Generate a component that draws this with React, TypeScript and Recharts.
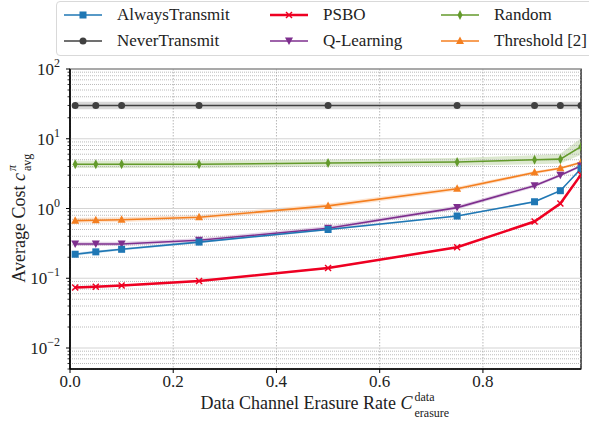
import {
  ComposedChart,
  Line,
  Area,
  XAxis,
  YAxis,
  CartesianGrid,
  ReferenceLine,
  ReferenceArea,
} from "recharts";

const FONT = "'Liberation Serif', 'DejaVu Serif', 'Times New Roman', Times, serif";

const erasureRates = [0.01, 0.05, 0.1, 0.25, 0.5, 0.75, 0.9, 0.95, 0.99];

const alwaysCost = [0.221, 0.239, 0.26, 0.33, 0.5, 0.78, 1.25, 1.8, 3.72];
const alwaysLo = [0.21, 0.228, 0.25, 0.318, 0.485, 0.76, 1.21, 1.74, 3.58];
const alwaysHi = [0.232, 0.25, 0.27, 0.342, 0.515, 0.8, 1.29, 1.86, 3.88];

const neverCost = [30, 30, 30, 30, 30, 30, 30, 30, 30];
const neverLo = [26.5, 26.5, 26.5, 26.5, 26.5, 26.5, 26.5, 26.5, 26.5];
const neverHi = [34, 34, 34, 34, 34, 34, 34, 34, 34];

const psboCost = [0.0735, 0.0758, 0.0785, 0.091, 0.14, 0.278, 0.65, 1.18, 3.05];
const psboLo = [0.071, 0.0735, 0.076, 0.088, 0.136, 0.27, 0.63, 1.14, 2.92];
const psboHi = [0.076, 0.078, 0.081, 0.094, 0.144, 0.286, 0.67, 1.22, 3.2];

const qCost = [0.31, 0.31, 0.31, 0.35, 0.52, 1.03, 2.12, 3.0, 4.07];
const qLo = [0.29, 0.29, 0.29, 0.33, 0.49, 0.97, 2.0, 2.85, 3.9];
const qHi = [0.335, 0.335, 0.335, 0.375, 0.56, 1.1, 2.25, 3.15, 4.25];

const randomCost = [4.3, 4.3, 4.3, 4.3, 4.5, 4.65, 5.0, 5.1, 7.7];
const randomLo = [3.8, 3.8, 3.8, 3.8, 4.0, 4.1, 4.3, 4.4, 5.9];
const randomHi = [4.85, 4.85, 4.85, 4.85, 5.05, 5.3, 5.8, 6.1, 10.2];

const thresholdCost = [0.67, 0.68, 0.69, 0.75, 1.09, 1.92, 3.28, 3.77, 4.56];
const thresholdLo = [0.62, 0.63, 0.64, 0.7, 1.01, 1.8, 3.1, 3.62, 4.35];
const thresholdHi = [0.73, 0.74, 0.75, 0.81, 1.18, 2.05, 3.45, 3.95, 4.8];

const xTicks = [0, 0.2, 0.4, 0.6, 0.8];
const yMajor = [0.01, 0.1, 1, 10, 100];
const yMajorExp = ["−2", "−1", "0", "1", "2"];
const yMinor: number[] = [];
for (const d of [0.001, 0.01, 0.1, 1, 10]) {
  for (let m = 2; m <= 9; m++) {
    const v = +(m * d).toPrecision(3);
    if (v >= 0.005 && v < 100) yMinor.push(v);
  }
}

const C = {
  always: "#1f77b4",
  never: "#404040",
  psbo: "#ee0022",
  q: "#7e2f8e",
  random: "#639a2b",
  threshold: "#f47f20",
};

const data = erasureRates.map((x, i) => ({
  x,
  always: alwaysCost[i],
  alwaysBand: [alwaysLo[i], alwaysHi[i]],
  never: neverCost[i],
  neverBand: [neverLo[i], neverHi[i]],
  psbo: psboCost[i],
  psboBand: [psboLo[i], psboHi[i]],
  q: qCost[i],
  qBand: [qLo[i], qHi[i]],
  random: randomCost[i],
  randomBand: [randomLo[i], randomHi[i]],
  threshold: thresholdCost[i],
  thresholdBand: [thresholdLo[i], thresholdHi[i]],
}));

type MarkerKind = "square" | "circle" | "x" | "down" | "diamond" | "up";

function Marker({ kind, cx, cy, color }: { kind: MarkerKind; cx: number; cy: number; color: string }) {
  if (cx == null || cy == null) return null;
  switch (kind) {
    case "square":
      return <rect x={cx - 3.5} y={cy - 3.5} width={7} height={7} fill={color} />;
    case "circle":
      return <circle cx={cx} cy={cy} r={3.5} fill={color} />;
    case "x":
      return (
        <g stroke={color} strokeWidth={1.4}>
          <line x1={cx - 3} y1={cy - 3} x2={cx + 3} y2={cy + 3} />
          <line x1={cx - 3} y1={cy + 3} x2={cx + 3} y2={cy - 3} />
        </g>
      );
    case "down":
      return <polygon points={`${cx - 4},${cy - 3.5} ${cx + 4},${cy - 3.5} ${cx},${cy + 4}`} fill={color} />;
    case "diamond":
      return <polygon points={`${cx},${cy - 5} ${cx + 2.5},${cy} ${cx},${cy + 5} ${cx - 2.5},${cy}`} fill={color} />;
    case "up":
      return <polygon points={`${cx},${cy - 4.5} ${cx + 4},${cy + 3} ${cx - 4},${cy + 3}`} fill={color} />;
  }
  return null;
}

const dotFor = (kind: MarkerKind, color: string) => (p: any) =>
  <Marker key={`${kind}-${p.index}`} kind={kind} cx={p.cx} cy={p.cy} color={color} />;

const YTick = ({ x, y, payload }: any) => {
  const v = payload.value;
  const idx = yMajor.findIndex((m) => Math.abs(m - v) / v < 1e-6);
  const major = idx >= 0;
  return (
    <g>
      <line x1={x - (major ? 4 : 2.5)} y1={y} x2={x} y2={y} stroke="#000" strokeWidth={major ? 1 : 0.8} />
      {major && (
        <text x={x - 10} y={y + 6} textAnchor="end" fontFamily={FONT} fontSize={17} fill="#222">
          10
          <tspan dy={-8} fontSize={12}>
            {yMajorExp[idx]}
          </tspan>
        </text>
      )}
    </g>
  );
};

const XLabel = ({ viewBox }: any) => {
  const cx = viewBox.x + viewBox.width / 2;
  const y = viewBox.y + 40;
  return (
    <g fontFamily={FONT} fill="#222">
      <text x={cx + 87} y={y} textAnchor="end" fontSize={18}>
        Data Channel Erasure Rate <tspan fontStyle="italic">C</tspan>
      </text>
      <text x={cx + 89} y={y - 8} fontSize={12}>data</text>
      <text x={cx + 89} y={y + 8} fontSize={12}>erasure</text>
    </g>
  );
};

const YLabel = ({ viewBox }: any) => {
  const cy = viewBox.y + viewBox.height / 2;
  const x = 25;
  return (
    <g transform={`rotate(-90 ${x} ${cy})`} fontFamily={FONT} fill="#222">
      <text x={x + 46} y={cy} textAnchor="end" fontSize={18}>
        Average Cost <tspan fontStyle="italic">c</tspan>
      </text>
      <text x={x + 48} y={cy - 9} fontSize={12} fontStyle="italic">π</text>
      <text x={x + 48} y={cy + 6} fontSize={12}>avg</text>
    </g>
  );
};

const legendItems: { name: string; kind: MarkerKind; color: string; width?: number }[] = [
  { name: "AlwaysTransmit", kind: "square", color: C.always },
  { name: "PSBO", kind: "x", color: C.psbo, width: 2.5 },
  { name: "Random", kind: "diamond", color: C.random },
  { name: "NeverTransmit", kind: "circle", color: C.never },
  { name: "Q-Learning", kind: "down", color: C.q },
  { name: "Threshold [2]", kind: "up", color: C.threshold },
];
const legendCols = [62, 268, 439];

const LegendBox = () => (
  <div
    style={{
      position: "absolute",
      left: 56,
      top: 1,
      width: 560,
      height: 55,
      border: "1px solid #d9d9d9",
      borderRadius: 4,
      background: "#fff",
      boxSizing: "border-box",
    }}
  >
    {legendItems.map((it, i) => {
      const col = i % 3;
      const row = Math.floor(i / 3);
      return (
        <div
          key={it.name}
          style={{
            position: "absolute",
            left: legendCols[col] - 56,
            top: row * 26 + 2,
            display: "flex",
            alignItems: "center",
            height: 22,
            whiteSpace: "nowrap",
          }}
        >
          <svg width={40} height={14} style={{ marginRight: 14 }}>
            <line x1={1} y1={7} x2={39} y2={7} stroke={it.color} strokeWidth={it.width ?? 1.6} />
            <Marker kind={it.kind} cx={20} cy={7} color={it.color} />
          </svg>
          <span style={{ fontFamily: FONT, fontSize: 17, color: "#222" }}>{it.name}</span>
        </div>
      );
    })}
  </div>
);

export default function App() {
  return (
    <div
      style={{
        position: "absolute",
        left: 0,
        top: 0,
        width: 589,
        height: 424,
        overflow: "hidden",
        background: "#fff",
      }}
    >
      <ComposedChart
        width={589}
        height={424}
        data={data}
        margin={{ top: 69, right: 8, bottom: 0, left: 0 }}
      >
        <CartesianGrid horizontal={false} stroke="#b8b8b8" strokeDasharray="1.5 1.5" />
        {yMinor.map((v) => (
          <ReferenceLine key={`mn${v}`} y={v} stroke="#a8a8a8" strokeWidth={0.8} strokeDasharray="1 1" />
        ))}
        {yMajor.map((v) => (
          <ReferenceLine key={`mj${v}`} y={v} stroke="#d4d4d4" strokeWidth={1.2} />
        ))}
        <XAxis
          dataKey="x"
          type="number"
          domain={[0, 0.99]}
          ticks={xTicks}
          tickFormatter={(v: number) => v.toFixed(1)}
          height={55}
          allowDataOverflow
          axisLine={{ stroke: "#000", strokeWidth: 1.5 }}
          tickLine={{ stroke: "#000" }}
          tickSize={4}
          tick={{ fontSize: 17, fill: "#222", fontFamily: FONT }}
          label={<XLabel />}
        />
        <YAxis
          scale="log"
          domain={[0.005, 100]}
          ticks={[...yMajor, ...yMinor]}
          allowDataOverflow
          width={70}
          tickLine={false}
          tickSize={0}
          tickMargin={0}
          interval={0}
          axisLine={{ stroke: "#000", strokeWidth: 1.5 }}
          tick={<YTick />}
          label={<YLabel />}
        />
        <Area dataKey="neverBand" type="linear" stroke="none" fill={C.never} fillOpacity={0.2} isAnimationActive={false} activeDot={false} />
        <Area dataKey="randomBand" type="linear" stroke="none" fill={C.random} fillOpacity={0.22} isAnimationActive={false} activeDot={false} />
        <Area dataKey="thresholdBand" type="linear" stroke="none" fill={C.threshold} fillOpacity={0.22} isAnimationActive={false} activeDot={false} />
        <Area dataKey="qBand" type="linear" stroke="none" fill={C.q} fillOpacity={0.2} isAnimationActive={false} activeDot={false} />
        <Area dataKey="alwaysBand" type="linear" stroke="none" fill={C.always} fillOpacity={0.2} isAnimationActive={false} activeDot={false} />
        <Area dataKey="psboBand" type="linear" stroke="none" fill={C.psbo} fillOpacity={0.2} isAnimationActive={false} activeDot={false} />
        <Line dataKey="never" type="linear" stroke={C.never} strokeWidth={1.6} dot={dotFor("circle", C.never)} activeDot={false} isAnimationActive={false} />
        <Line dataKey="random" type="linear" stroke={C.random} strokeWidth={1.6} dot={dotFor("diamond", C.random)} activeDot={false} isAnimationActive={false} />
        <Line dataKey="threshold" type="linear" stroke={C.threshold} strokeWidth={1.6} dot={dotFor("up", C.threshold)} activeDot={false} isAnimationActive={false} />
        <Line dataKey="q" type="linear" stroke={C.q} strokeWidth={1.6} dot={dotFor("down", C.q)} activeDot={false} isAnimationActive={false} />
        <Line dataKey="always" type="linear" stroke={C.always} strokeWidth={1.6} dot={dotFor("square", C.always)} activeDot={false} isAnimationActive={false} />
        <Line dataKey="psbo" type="linear" stroke={C.psbo} strokeWidth={2.5} dot={dotFor("x", C.psbo)} activeDot={false} isAnimationActive={false} />
        <ReferenceArea x1={0} x2={0.99} y1={0.005} y2={100} fill="none" stroke="#000" strokeWidth={1.2} ifOverflow="visible" />
      </ComposedChart>
      <LegendBox />
    </div>
  );
}
